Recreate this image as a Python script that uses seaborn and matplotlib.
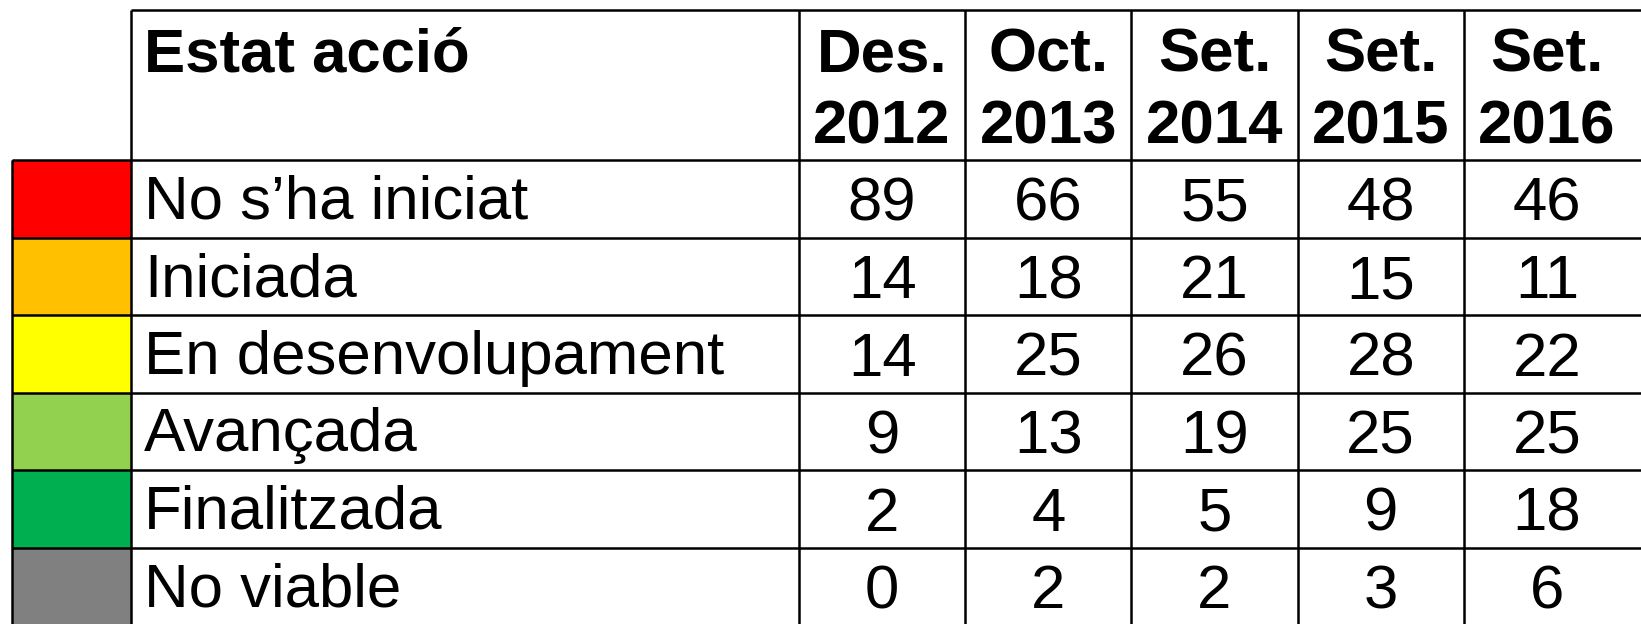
import numpy as np
import pandas as pd
import seaborn as sns
import matplotlib.pyplot as plt
from matplotlib.colors import ListedColormap

# Table content
titol_estat = "Estat acció"
estats = ["No s\u2019ha iniciat", "Iniciada", "En desenvolupament",
          "Avançada", "Finalitzada", "No viable"]
mesos = ["Des.", "Oct.", "Set.", "Set.", "Set."]
anys = ["2012", "2013", "2014", "2015", "2016"]
des_2012 = [89, 14, 14, 9, 2, 0]
oct_2013 = [66, 18, 25, 13, 4, 2]
set_2014 = [55, 21, 26, 19, 5, 2]
set_2015 = [48, 15, 28, 25, 9, 3]
set_2016 = [46, 11, 22, 25, 18, 6]
colors_estat = ["#FF0000", "#FFC000", "#FFFF00", "#92D050", "#00B050", "#808080"]

periodes = [f"{m}\n{a}" for m, a in zip(mesos, anys)]
df = pd.DataFrame(dict(zip(periodes, [des_2012, oct_2013, set_2014, set_2015, set_2016])),
                  index=estats)

plt.rcParams['font.family'] = ['Liberation Sans', 'DejaVu Sans']

# Layout in pixels
W, H = 1641, 624
X_SW, X_LAB, X_VAL, X_END = 12, 131, 799, 1630
Y_TOP, Y_HEAD, ROW_H = 10, 160, 77.5
FS = 44.5
LW = 1.8

fig = plt.figure(figsize=(W / 100, H / 100), dpi=100)


def box(x0, y0, x1, y1):
    return fig.add_axes([x0 / W, 1 - y1 / H, (x1 - x0) / W, (y1 - y0) / H])


n = len(estats)
y_bot = Y_HEAD + n * ROW_H

# colour swatches
ax_sw = box(X_SW, Y_HEAD, X_LAB, y_bot)
sns.heatmap(np.arange(n).reshape(-1, 1), ax=ax_sw, cmap=ListedColormap(colors_estat),
            vmin=-0.5, vmax=n - 0.5, cbar=False, xticklabels=False, yticklabels=False)

# value cells
ax_val = box(X_VAL, Y_HEAD, X_END, y_bot)
sns.heatmap(df, ax=ax_val, annot=True, fmt='d', cmap=ListedColormap(['white']),
            cbar=False, xticklabels=False, yticklabels=False,
            annot_kws=dict(fontsize=FS, color='black', va='center_baseline'))
ax_val.set_xlabel('')
ax_val.set_ylabel('')

# overlay for grid lines and text
ax = fig.add_axes([0, 0, 1, 1], zorder=5)
ax.set_xlim(0, W)
ax.set_ylim(H, 0)
ax.axis('off')

ncol = len(periodes)
col_w = (X_END - X_VAL) / ncol
ax.hlines(Y_TOP, X_LAB, W, color='black', lw=LW)
for i in range(n + 1):
    ax.hlines(Y_HEAD + i * ROW_H, X_SW, W, color='black', lw=LW)
ax.vlines(X_SW, Y_HEAD, H, color='black', lw=LW)
ax.vlines(X_LAB, Y_TOP, H, color='black', lw=LW)
for j in range(ncol):
    ax.vlines(X_VAL + j * col_w, Y_TOP, H, color='black', lw=LW)

# header
ax.text(X_LAB + 13, 71, titol_estat, fontsize=FS, fontweight='bold', va='baseline')
for j, (m, a) in enumerate(zip(mesos, anys)):
    cx = X_VAL + (j + 0.5) * col_w
    ax.text(cx, 71, m, fontsize=FS, fontweight='bold', ha='center', va='baseline')
    ax.text(cx, 143, a, fontsize=FS, fontweight='bold', ha='center', va='baseline')

# row labels
for i, e in enumerate(estats):
    ax.text(X_LAB + 13, Y_HEAD + (i + 0.5) * ROW_H - 2, e, fontsize=FS,
            va='center_baseline')

fig.savefig('out.png', dpi=100)
